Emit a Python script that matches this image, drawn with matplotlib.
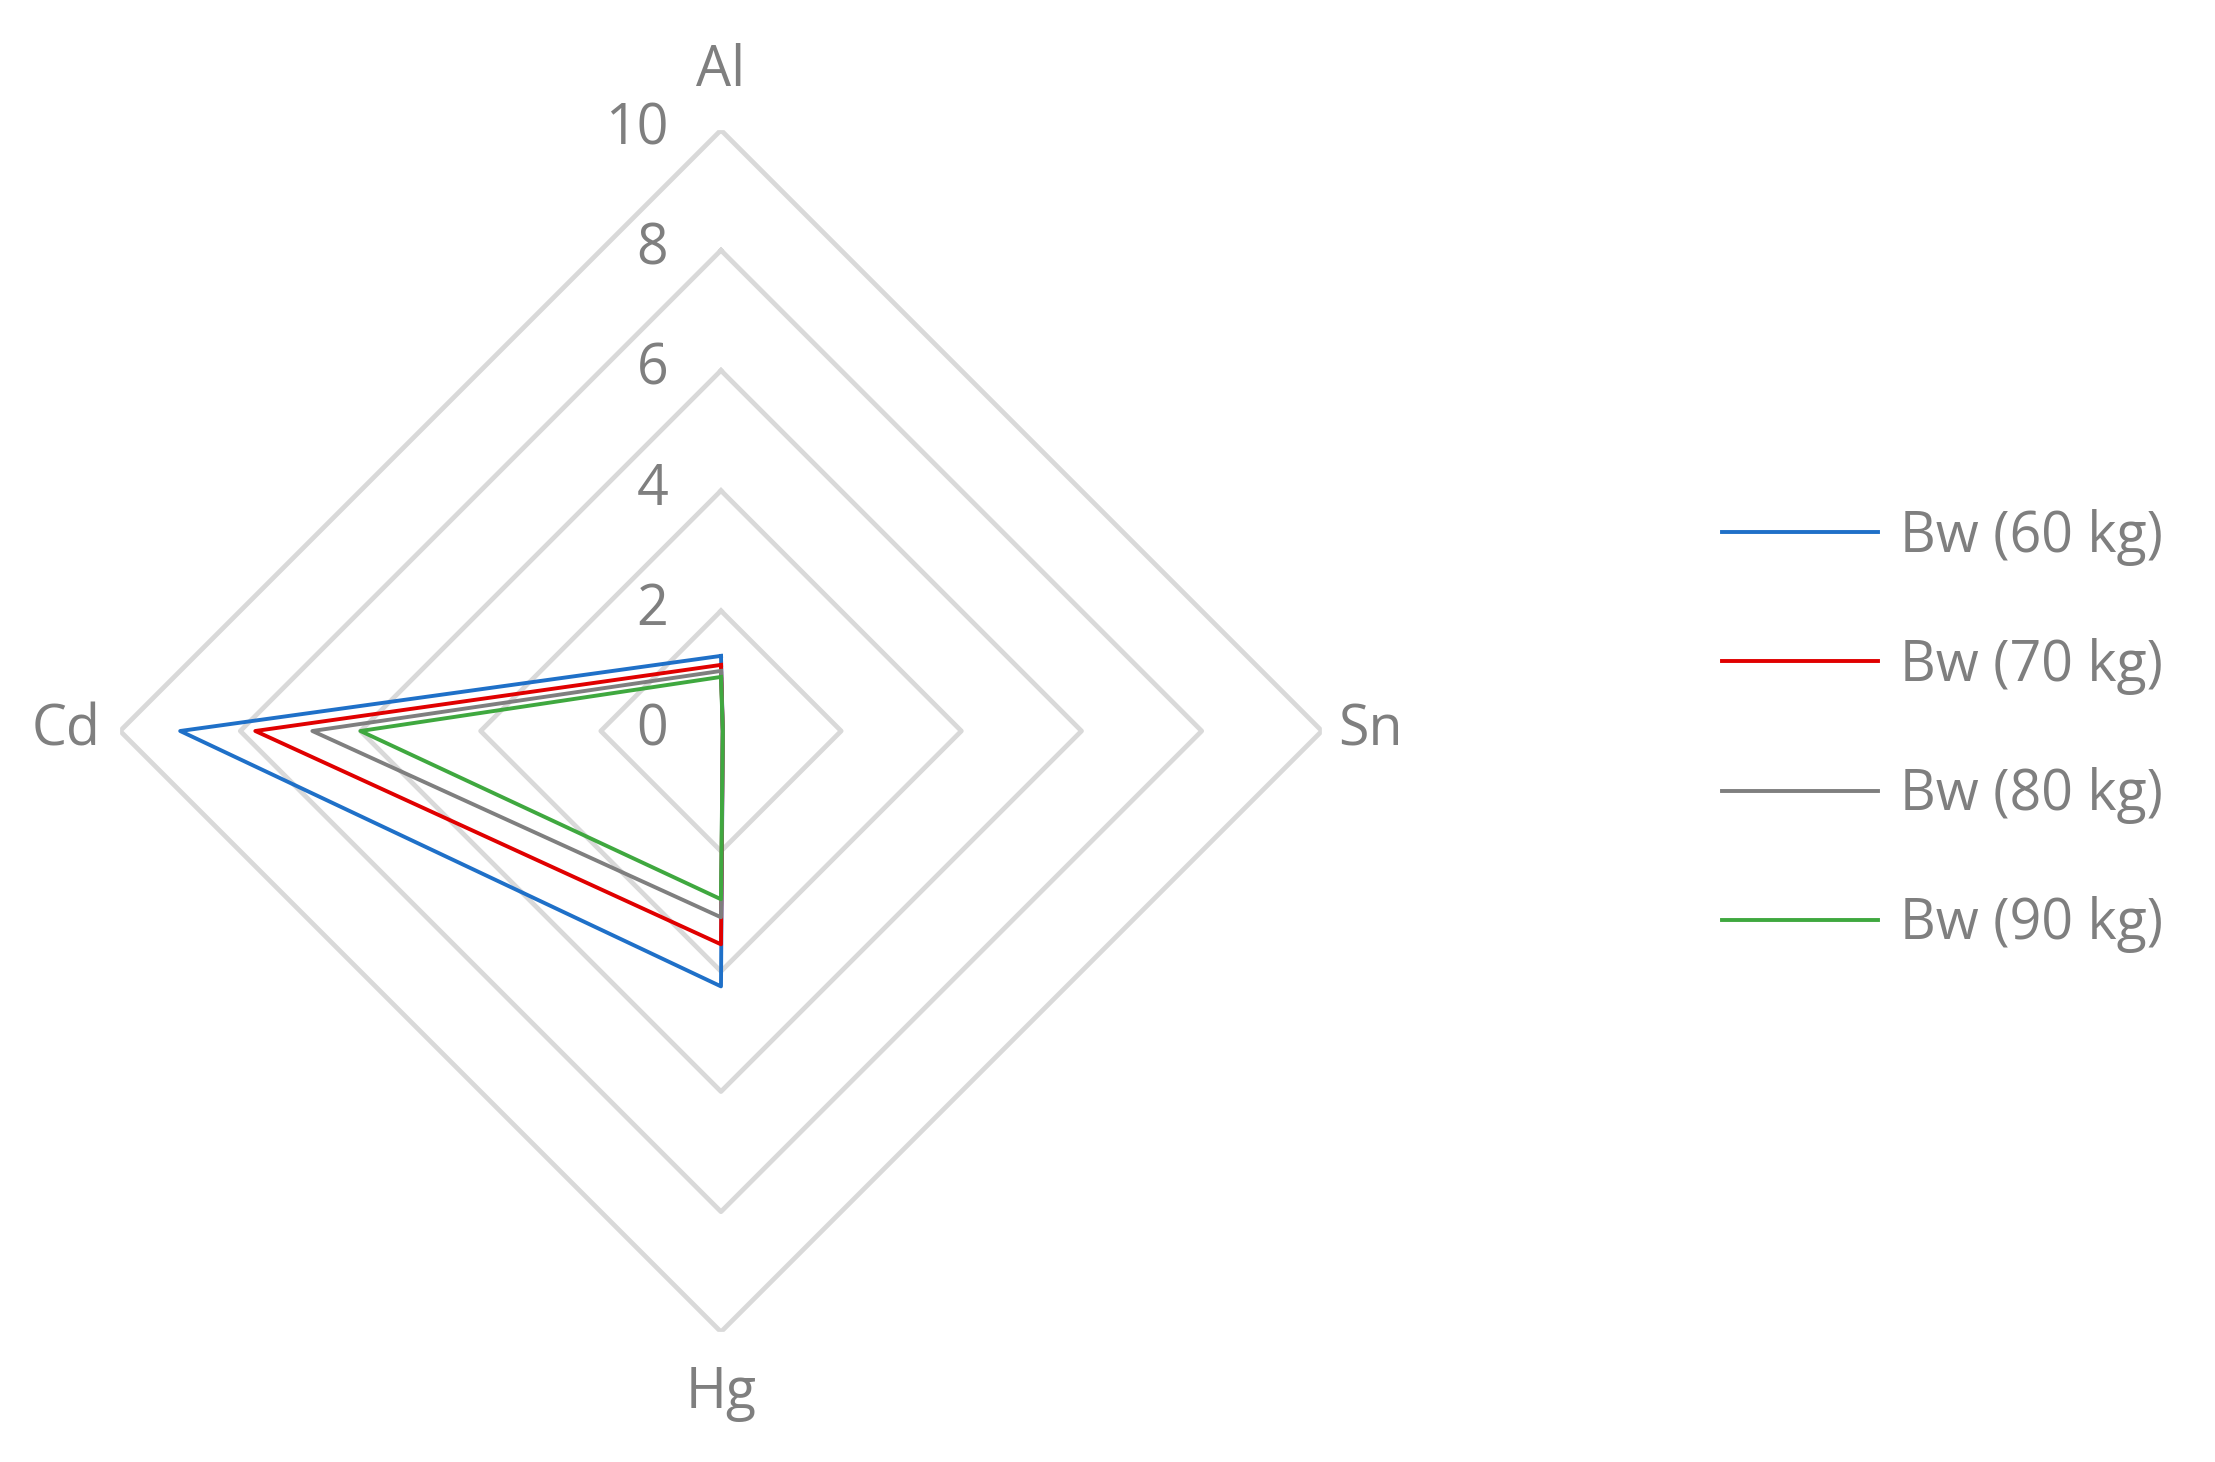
import numpy as np
import matplotlib.pyplot as plt

plt.rcParams['font.family'] = ['Open Sans', 'DejaVu Sans']

# data
axes_labels = ['Al', 'Sn', 'Hg', 'Cd']
series_names = ['Bw (60 kg)', 'Bw (70 kg)', 'Bw (80 kg)', 'Bw (90 kg)']
bw60 = [1.25, 0.03, 4.25, 9.0]
bw70 = [1.1, 0.03, 3.55, 7.75]
bw80 = [1.0, 0.03, 3.1, 6.8]
bw90 = [0.9, 0.03, 2.8, 6.0]
ticks = [0, 2, 4, 6, 8, 10]
colors = ['#1F70C8', '#E00000', '#7F7F7F', '#3FA83F']

fig = plt.figure(figsize=(22.15, 14.62), dpi=100)
ax = fig.add_axes([0.054, 0.089, 0.543, 0.822], projection='polar')
ax.set_theta_offset(np.pi / 2)
ax.set_theta_direction(-1)
ax.set_ylim(0, 10)
ax.grid(False)
ax.spines['polar'].set_visible(False)
ax.set_xticks([])
ax.set_yticks([])

angles = np.linspace(0, 2 * np.pi, len(axes_labels), endpoint=False)
closed = np.append(angles, angles[0])

# straight grid polygons
for t in ticks[1:]:
    ax.plot(closed, [t] * len(closed), color='#D9D9D9', lw=3.4, zorder=1)

for vals, name, c in zip([bw60, bw70, bw80, bw90], series_names, colors):
    ax.plot(closed, vals + [vals[0]], color=c, lw=2.8, label=name, zorder=3)

# radial tick labels
for t in ticks:
    ax.annotate(str(t), xy=(0, t), xytext=(-38, 0), textcoords='offset points',
                ha='right', va='center', fontsize=40, color='#7F7F7F')

# category labels
offsets = [(0, 22), (12, 0), (0, -24), (-14, 0)]
aligns = [('center', 'bottom'), ('left', 'center'), ('center', 'top'), ('right', 'center')]
for a, lab, off, (ha, va) in zip(angles, axes_labels, offsets, aligns):
    ax.annotate(lab, xy=(a, 10), xytext=off, textcoords='offset points',
                ha=ha, va=va, fontsize=40, color='#7F7F7F')

fig.legend(loc='center left', bbox_to_anchor=(0.755, 0.5), frameon=False,
           fontsize=40, handlelength=2.8, handletextpad=0.4, labelspacing=1.3,
           labelcolor='#7F7F7F')

fig.savefig('out.png', dpi=100)
